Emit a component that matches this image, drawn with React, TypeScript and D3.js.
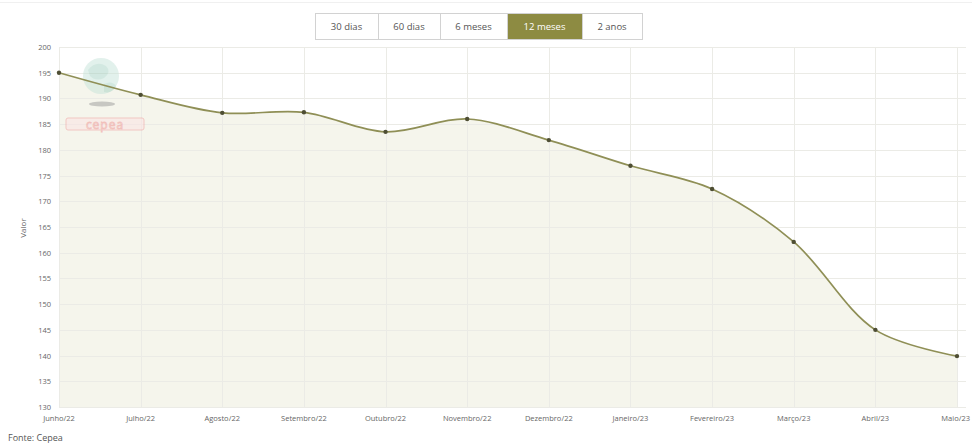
import { useMemo } from "react";
import * as d3 from "d3";

// Monthly series (12 meses view)
const months = [
  "Junho/22", "Julho/22", "Agosto/22", "Setembro/22", "Outubro/22", "Novembro/22",
  "Dezembro/22", "Janeiro/23", "Fevereiro/23", "Março/23", "Abril/23", "Maio/23",
];
const values = [195.0, 190.7, 187.2, 187.3, 183.5, 186.0, 181.9, 176.9, 172.4, 162.1, 145.0, 139.9];
const yTicks = [130, 135, 140, 145, 150, 155, 160, 165, 170, 175, 180, 185, 190, 195, 200];
const ranges = ["30 dias", "60 dias", "6 meses", "12 meses", "2 anos"];
const activeRange = "12 meses";

const W = 972;
const H = 447;
const FONT = "'Open Sans', 'Noto Sans', sans-serif";

export default function App() {
  const x = useMemo(() => d3.scalePoint<string>().domain(months).range([59, 957]), []);
  const y = useMemo(() => d3.scaleLinear().domain([130, 200]).range([407, 47]), []);

  const pts = months.map((m, i) => ({ m, v: values[i] }));
  const curve = d3.curveCatmullRom.alpha(0.5);
  const line = d3.line<{ m: string; v: number }>().x(d => x(d.m)!).y(d => y(d.v)).curve(curve);
  const area = d3.area<{ m: string; v: number }>().x(d => x(d.m)!).y0(y(130)).y1(d => y(d.v)).curve(curve);

  // button widths
  const btnW = [63, 62, 67, 75, 60];
  let acc = 315;
  const btns = ranges.map((r, i) => {
    const b = { r, x: acc, w: btnW[i] };
    acc += btnW[i];
    return b;
  });

  const last = months[months.length - 1];

  return (
    <svg width={W} height={H} style={{ position: "absolute", left: 0, top: 0, background: "#fff" }} fontFamily={FONT}>
      <line x1={0} x2={W} y1={2.5} y2={2.5} stroke="#f0f0f0" />

      {/* range buttons */}
      <g>
        {btns.map(b => (
          <g key={b.r}>
            <rect x={b.x + 0.5} y={13.5} width={b.w} height={26}
              fill={b.r === activeRange ? "#8d8b42" : "#fff"} stroke="#d2d2d2" />
            <text x={b.x + b.w / 2} y={30} textAnchor="middle" fontSize={9.5}
              fill={b.r === activeRange ? "#fff" : "#555"}>{b.r}</text>
          </g>
        ))}
      </g>

      {/* area fill */}
      <path d={area(pts) ?? ""} fill="#f5f5ec" />

      {/* gridlines */}
      <g stroke="#ebebe6" strokeWidth={1}>
        {yTicks.map(t => (
          <line key={t} x1={59} x2={966} y1={Math.round(y(t)) + 0.5} y2={Math.round(y(t)) + 0.5} />
        ))}
        {months.map(m => (
          <line key={m} x1={Math.round(x(m)!) + 0.5} x2={Math.round(x(m)!) + 0.5} y1={47} y2={407} />
        ))}
      </g>

      {/* watermark logo */}
      <g opacity={0.5}>
        <circle cx={101} cy={76} r={18} fill="#c6e4da" />
        <path d="M88,70 q8,-10 18,-4 q6,6 -2,12 q-8,4 -14,-2z" fill="#a6d3c4" />
        <path d="M104,84 q8,-4 12,2 q-4,8 -12,6z" fill="#a6d3c4" />
        <ellipse cx={102} cy={104} rx={13} ry={2.5} fill="#9a9a9a" />
        <rect x={66} y={118} width={78} height={12} rx={2} fill="#fbe3e3" stroke="#f19a9a" />
        <text x={105} y={128.5} textAnchor="middle" fontSize={12} fill="#fff" stroke="#ef8c8c" strokeWidth={0.8} letterSpacing={1}>cepea</text>
      </g>

      {/* line */}
      <path d={line(pts) ?? ""} fill="none" stroke="#8f8f56" strokeWidth={1.7} />
      {pts.map(p => (
        <circle key={p.m} cx={x(p.m)!} cy={y(p.v)} r={2.2} fill="#4e4e34" />
      ))}

      {/* y axis labels */}
      <g fontSize={7.5} fill="#666" textAnchor="end">
        {yTicks.map(t => (
          <text key={t} x={51} y={y(t) + 3}>{t}</text>
        ))}
      </g>
      <text transform="translate(26,228) rotate(-90)" textAnchor="middle" fontSize={8} fill="#666">Valor</text>

      {/* x axis labels */}
      <g fontSize={7.5} fill="#666">
        {months.map(m => (
          <text key={m} x={m === last ? 970 : x(m)!} y={421} textAnchor={m === last ? "end" : "middle"}>{m}</text>
        ))}
      </g>

      <text x={8} y={441} fontSize={9} fill="#555">Fonte: Cepea</text>
    </svg>
  );
}
